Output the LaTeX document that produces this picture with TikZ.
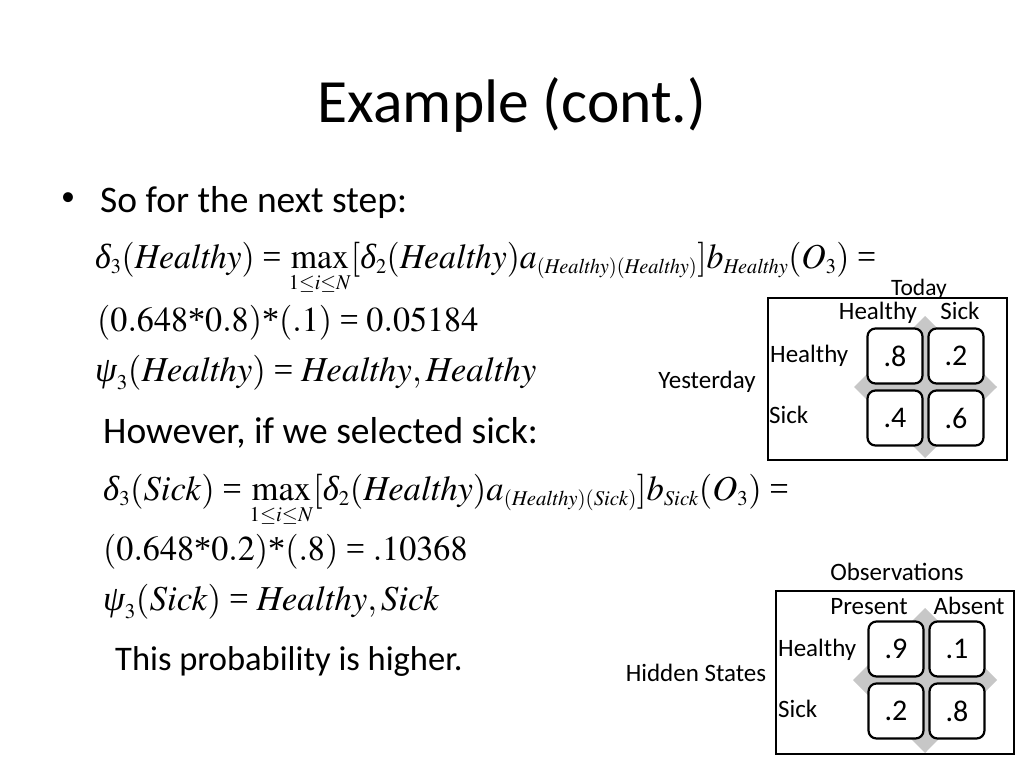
\documentclass[tikz,border=0pt]{standalone}
\usepackage{mathptmx}
\usepackage[no-math]{fontspec}
\setmainfont{Carlito}
\newfontfamily\tms{Liberation Serif}
\DeclareMathSizes{35}{35}{21}{17}
\newcommand{\ms}{\mbox{\tms *}}
\newcommand{\eqs}{\mathrel{\mbox{\tms =}}}
\newcommand{\dl}{\mbox{\tms\itshape δ}}
\newcommand{\ps}{\mbox{\tms\itshape ψ}}
\newcommand{\hh}{\mathit{Healthy}}
\newcommand{\sk}{\mathit{Sick}}
\newcommand{\lims}{\scriptstyle 1\le i\le N}
\newcommand{\mspacing}{\thickmuskip 4mu\relax\medmuskip 2mu\relax}
\begin{document}
\begin{tikzpicture}[x=1pt,y=-1pt,
  txt/.style={inner sep=0pt,font=\fontsize{37.5}{44}\selectfont},
  mth/.style={inner sep=0pt,font=\fontsize{35}{42}\selectfont,anchor=base west},
  lab/.style={inner sep=0pt,font=\fontsize{25}{30}\selectfont,anchor=base},
  val/.style={draw,line width=2.2pt,rounded corners=8pt,fill=white,minimum width=55pt,minimum height=55pt,inner sep=0pt,font=\fontsize{30}{36}\selectfont},
  frame/.style={draw,line width=2.2pt},
  dia/.style={fill=black!22}]
\useasboundingbox (0,0) rectangle (1024,768);
\fill[white] (0,0) rectangle (1024,768);
% title
\node[inner sep=0pt,font=\fontsize{61.5}{70}\selectfont,anchor=base] (title) at (512,122) {Example (cont.)};
\node[inner sep=0pt,font=\fontsize{28}{34}\selectfont] (bul) at (68,199) {•};
\node[txt,anchor=base west] (t1) at (100,212) {So for the next step:};
\node[mth] (m1) at (95,268) {\scalebox{0.966}[1]{$\mspacing\dl_3(\hh) \eqs \max\limits_{\lims}[\dl_2(\hh)a_{(\hh)(\hh)}]b_{\hh}(O_3) \eqs$}};
\node[mth] (m2) at (97,331) {\scalebox{0.975}[1]{$\mspacing(0.648\ms 0.8)\ms(.1) \eqs 0.05184$}};
\node[mth] (m3) at (95,381) {$\mspacing\ps_3(\hh) \eqs \hh, \hh$};
\node[txt,anchor=base west] (t2) at (103,443) {However, if we selected sick:};
\node[mth] (m4) at (103,500) {\scalebox{0.99}[1]{$\mspacing\dl_3(\sk) \eqs \max\limits_{\lims}[\dl_2(\hh)a_{(\hh)(\sk)}]b_{\sk}(O_3) \eqs$}};
\node[mth] (m5) at (103,560) {\scalebox{0.976}[1]{$\mspacing(0.648\ms 0.2)\ms(.8) \eqs .10368$}};
\node[mth] (m6) at (103,610) {$\mspacing\ps_3(\sk) \eqs \hh, \sk$};
\node[txt,anchor=base west,font=\fontsize{34.5}{40}\selectfont] (t3) at (115,670) {This probability is higher.};
% matrix 1
\node[frame,minimum width=239pt,minimum height=162pt,inner sep=0pt] (f1) at (887.5,379) {};
\fill[dia] (925,316) -- (997,387) -- (925,458) -- (854,387) -- cycle;
\node[val] (a11) at (895,356) {.8};
\node[val] (a12) at (956,356) {.2};
\node[val] (a21) at (895,418) {.4};
\node[val] (a22) at (956,418) {.6};
\node[lab,font=\fontsize{23.5}{28}\selectfont] (today) at (919,295) {Today};
\node[lab] (ch) at (878,319) {Healthy};
\node[lab] (cs) at (960,319) {Sick};
\node[lab,anchor=base west] (rh) at (770,362) {Healthy};
\node[lab,anchor=base west] (rs) at (769,423) {Sick};
\node[lab] (yest) at (707,388) {Yesterday};
% matrix 2
\node[frame,minimum width=238pt,minimum height=163pt,inner sep=0pt] (f2) at (895,672.5) {};
\fill[dia] (925,608) -- (997,680) -- (925,753) -- (853,680) -- cycle;
\node[val] (b11) at (896,649) {.9};
\node[val] (b12) at (957,649) {.1};
\node[val] (b21) at (896,711) {.2};
\node[val] (b22) at (957,711) {.8};
\node[lab] (obs) at (897,580) {Observations};
\node[lab] (pr) at (869,614) {Present};
\node[lab] (ab) at (969,614) {Absent};
\node[lab,anchor=base west] (rh2) at (778,656) {Healthy};
\node[lab,anchor=base west] (rs2) at (778,717) {Sick};
\node[lab] (hid) at (696,681) {Hidden States};
\end{tikzpicture}
\end{document}
